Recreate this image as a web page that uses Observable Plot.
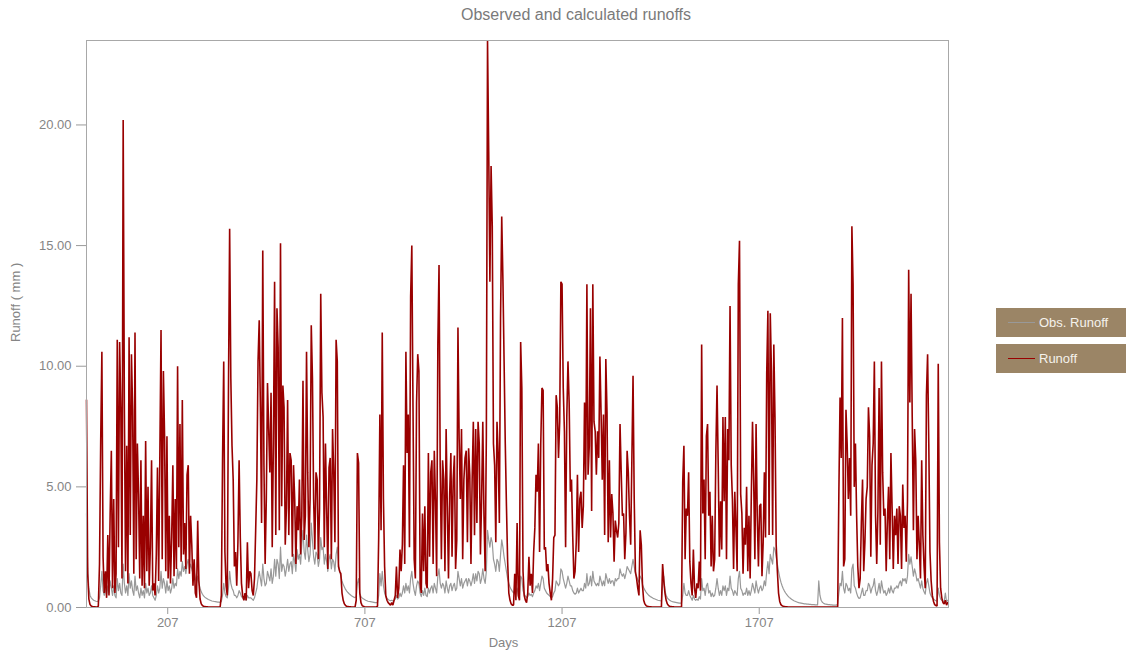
<!DOCTYPE html>
<html>
<head>
<meta charset="utf-8">
<script src="https://cdn.jsdelivr.net/npm/d3@7"></script>
<script src="https://cdn.jsdelivr.net/npm/@observablehq/plot@0.6"></script>
<style>
  body { margin: 0; background: #fff; font-family: "Liberation Sans", Arial, sans-serif; }
  #wrap { position: relative; width: 1126px; height: 655px; overflow: hidden; }
  #title { position: absolute; top: 6px; left: 576px; transform: translateX(-50%); font-size: 16px; color: #7a7a7a; white-space: nowrap; }
  #chart { position: absolute; top: 30px; left: 0; }
  .key { position: absolute; left: 996px; width: 134px; height: 29px; background: #9b8566; color: #f5f2ec; font-size: 13px; }
  .key .swatch { position: absolute; left: 12px; top: 14px; width: 27px; height: 1px; }
  .key .name { position: absolute; left: 43px; top: 7px; white-space: nowrap; }
</style>
</head>
<body>
<div id="wrap">
  <div id="title"></div>
  <div id="chart"></div>
  <div id="legend"></div>
</div>
<script>
// Daily runoff record, sampled every 3rd day starting at day 1
const titleText = "Observed and calculated runoffs";
const xLabel = "Days";
const yLabel = "Runoff ( mm )";
const firstDay = 1;
const dayStep = 3;
const lastDay = 2187;
const xTicks = [207, 707, 1207, 1707];
const yTicks = [0, 5, 10, 15, 20];
const yMax = 23.5;

const seriesNames = ["Obs. Runoff", "Runoff"];
const seriesColors = ["#999999", "#990000"];

// calculated runoff (mm)
const runoff = [
  8.6,1.4,0.35,0.12,0.06,0.04,0.03,0.03,0.02,0.02,
  0.05,1.8,6.9,10.6,2.1,0.6,1.5,0.4,3.0,0.5,
  3.9,6.5,0.8,4.5,0.6,1.4,11.1,2.5,11.0,8.3,
  1.2,20.2,8.4,1.5,6.7,1.0,11.2,3.0,10.5,8.2,
  1.4,11.4,2.0,6.8,4.7,1.2,6.1,0.9,3.8,0.8,
  6.9,1.5,5.0,0.9,2.5,6.1,0.7,1.0,0.5,2.2,
  5.8,1.1,6.3,11.5,2.0,9.8,7.1,1.5,7.1,1.2,
  3.8,1.0,2.9,5.9,1.3,4.5,1.6,10.0,2.5,7.6,
  1.9,8.6,2.2,3.5,1.6,5.5,5.9,1.4,3.8,2.6,
  0.9,2.0,0.6,0.4,3.6,1.1,0.35,0.15,0.08,0.05,
  0.04,0.03,0.03,0.02,0.02,0.02,0.02,0.02,0.02,0.02,
  0.02,0.02,0.02,0.03,0.5,6.1,10.2,2.3,0.9,0.5,
  9.0,15.7,9.5,6.7,5.3,1.7,2.3,0.9,2.7,6.1,
  2.9,1.0,0.5,0.3,0.6,0.3,2.7,0.8,1.5,1.4,
  0.7,0.5,1.2,3.2,5.3,10.2,11.9,8.3,3.5,14.8,
  5.9,1.8,4.5,9.3,7.4,5.6,8.9,2.5,6.8,13.5,
  3.0,12.4,10.8,3.2,15.1,4.2,9.2,8.3,2.6,4.1,
  8.6,3.0,6.4,6.1,2.1,5.9,4.5,1.8,4.2,3.2,
  5.3,2.2,3.8,9.4,2.8,3.8,10.6,5.6,2.5,4.5,
  11.7,9.5,4.5,2.4,5.6,5.3,2.0,4.1,13.0,8.9,
  7.9,2.5,6.8,4.1,1.6,5.8,6.2,2.0,7.4,5.6,
  2.7,11.1,10.2,1.7,1.5,1.4,0.6,0.3,0.15,0.08,
  0.05,0.04,0.03,0.03,0.02,0.02,0.02,0.02,0.3,6.4,
  6.0,0.6,0.2,0.08,0.05,0.03,0.02,0.02,0.02,0.02,
  0.02,0.02,0.02,0.02,0.02,0.02,0.05,2.9,8.0,3.2,
  11.4,4.5,1.7,0.5,0.3,0.2,0.15,0.1,0.2,0.1,
  0.3,0.5,1.7,0.4,0.8,2.4,1.5,2.6,5.9,1.8,
  10.6,6.4,8.0,2.5,12.9,15.0,8.3,2.0,1.2,8.5,
  10.5,9.8,1.0,0.6,3.9,1.5,4.2,1.0,0.8,6.4,
  2.1,5.6,6.1,1.8,6.5,4.4,1.3,10.9,14.2,5.8,
  2.0,6.1,5.3,1.5,7.4,4.2,1.2,4.7,6.4,2.1,
  5.3,6.3,1.6,2.8,11.6,7.0,4.5,7.4,2.0,5.3,
  6.2,6.5,2.7,6.6,5.5,1.8,5.3,7.7,3.0,7.4,
  3.5,7.7,6.8,2.2,4.5,7.7,3.8,1.5,7.1,23.5,
  18.9,13.5,18.3,15.8,6.8,5.9,2.7,7.7,6.4,3.5,
  12.0,16.2,13.6,10.2,6.8,4.2,1.9,0.6,0.3,0.15,
  0.1,0.1,1.4,0.3,3.5,0.5,0.3,11.0,9.1,1.5,
  0.5,0.3,0.2,0.6,2.1,0.9,1.4,0.6,2.3,3.3,
  5.5,4.8,6.8,2.3,6.8,9.1,9.0,2.4,2.5,1.5,
  1.8,1.0,0.6,0.3,1.2,2.9,3.0,8.8,8.3,6.2,
  7.7,13.5,13.4,9.1,7.3,2.5,7.9,10.2,8.5,4.8,
  5.3,3.0,1.2,1.5,2.7,5.5,2.3,4.5,4.8,3.3,
  4.2,8.5,5.3,13.4,5.5,6.7,12.4,4.0,13.4,7.7,
  7.3,5.5,7.3,6.2,10.4,8.0,5.3,8.0,3.0,10.3,
  8.1,2.7,6.1,2.9,4.7,3.9,1.9,3.6,3.2,2.9,
  3.5,7.6,5.6,3.8,3.9,2.0,3.1,6.5,5.6,3.8,
  2.6,6.1,9.6,4.5,1.5,1.2,0.8,0.5,3.2,2.6,
  0.9,0.3,0.15,0.08,0.05,0.04,0.03,0.03,0.02,0.02,
  0.02,0.02,0.02,0.02,0.02,0.02,0.02,1.8,1.1,0.6,
  0.3,0.15,0.08,0.05,0.04,0.03,0.03,0.02,0.02,0.02,
  0.02,0.02,0.02,0.03,5.2,6.7,2.0,4.1,3.8,5.6,
  1.9,1.0,0.5,2.4,0.8,0.4,1.0,0.8,1.9,0.7,
  10.9,3.9,5.3,2.0,7.1,7.6,3.8,4.8,1.7,3.8,
  1.5,2.0,6.4,9.2,5.9,2.1,4.4,2.4,7.9,4.4,
  7.9,2.0,7.4,6.1,12.5,5.9,4.5,1.6,4.8,3.3,
  1.5,13.4,15.2,4.7,3.9,1.4,3.3,2.6,5.0,1.5,
  3.8,1.2,4.7,7.7,5.2,2.0,7.6,3.8,1.7,4.2,
  4.3,1.3,2.7,5.6,2.9,9.7,12.3,3.0,12.2,9.8,
  3.0,10.9,7.9,2.6,1.5,0.6,0.25,0.12,0.07,0.05,
  0.04,0.03,0.03,0.02,0.02,0.02,0.02,0.02,0.02,0.02,
  0.02,0.02,0.02,0.02,0.02,0.02,0.02,0.02,0.02,0.02,
  0.02,0.02,0.02,0.02,0.02,0.02,0.02,0.02,0.02,0.02,
  0.02,0.02,0.02,0.02,0.02,0.02,0.02,0.02,0.02,0.02,
  0.02,0.02,0.02,0.02,0.02,0.03,4.8,8.7,6.2,12.0,
  1.7,2.0,8.2,6.8,4.5,6.2,3.8,15.8,13.4,5.0,
  6.8,3.8,1.7,0.8,1.2,3.5,5.3,1.5,2.7,4.5,
  5.0,8.3,7.1,2.1,5.9,6.8,10.2,3.8,1.8,4.0,
  9.1,2.6,10.2,5.6,3.8,4.1,1.5,3.6,5.0,2.0,
  6.4,4.1,1.6,3.8,3.0,4.1,1.8,4.2,3.8,1.6,
  5.1,3.3,3.8,1.9,4.4,14.0,8.5,13.0,7.9,3.2,
  7.4,6.1,2.0,3.8,2.6,1.2,6.1,3.0,1.7,0.8,
  8.8,10.5,6.8,2.3,1.1,0.5,0.25,0.12,0.08,0.06,
  10.1,2.7,0.8,0.4,0.2,0.15,0.3,0.1,0.2
];

// observed runoff (mm)
const obsRunoff = [
  3.9,1.6,0.8,0.5,0.4,0.35,0.3,0.28,0.26,0.25,
  0.25,0.4,0.9,1.5,0.7,0.5,0.8,0.5,0.9,0.6,
  1.1,0.8,0.5,0.9,0.5,0.4,1.2,0.7,1.0,0.6,
  0.5,1.8,1.0,0.6,0.9,0.5,1.4,0.8,1.1,0.7,
  0.5,1.3,0.7,0.9,0.6,0.4,0.8,0.5,0.7,0.4,
  1.0,0.6,0.8,0.5,0.6,0.9,0.5,0.4,0.3,0.5,
  0.9,0.6,0.8,1.5,0.8,1.2,1.0,0.6,1.1,0.7,
  0.9,0.6,0.8,1.2,0.8,1.0,0.9,1.6,1.2,1.5,
  1.3,1.9,1.5,1.7,1.4,1.8,2.0,1.6,1.8,1.6,
  1.4,1.5,1.2,1.0,1.3,1.0,0.8,0.65,0.55,0.48,
  0.43,0.39,0.36,0.33,0.31,0.29,0.27,0.26,0.25,0.24,
  0.23,0.22,0.22,0.21,0.25,0.5,1.0,0.6,0.45,0.4,
  0.8,1.5,1.0,0.8,0.7,0.5,0.5,0.4,0.5,0.7,
  0.6,0.45,0.4,0.35,0.35,0.3,0.5,0.4,0.4,0.4,
  0.35,0.3,0.4,0.6,0.8,1.2,1.5,1.2,0.9,1.8,
  1.2,0.9,1.0,1.5,1.3,1.1,1.6,1.0,1.3,2.0,
  1.3,2.0,1.8,1.2,2.5,1.5,1.8,1.7,1.3,1.6,
  2.0,1.5,1.8,1.9,1.4,2.2,1.9,1.5,2.4,2.0,
  2.2,1.8,2.6,3.2,2.3,2.0,3.0,2.4,1.9,2.2,
  3.5,2.8,2.1,1.8,2.3,2.2,1.7,2.0,2.9,2.4,
  2.5,1.8,2.2,1.9,1.5,2.0,2.2,1.6,2.0,1.9,
  1.5,2.2,2.5,1.8,1.5,1.3,1.1,0.95,0.85,0.75,
  0.68,0.62,0.57,0.53,0.49,0.46,0.43,0.41,0.45,1.0,
  1.2,0.6,0.45,0.4,0.36,0.33,0.3,0.28,0.26,0.25,
  0.24,0.23,0.22,0.21,0.2,0.2,0.2,0.5,1.4,0.9,
  1.5,0.9,0.6,0.45,0.38,0.33,0.3,0.28,0.3,0.27,
  0.3,0.35,0.5,0.35,0.4,0.6,0.45,0.6,0.9,0.6,
  1.0,0.7,0.9,0.6,1.2,1.5,1.0,0.7,0.5,0.9,
  1.1,1.0,0.6,0.45,0.7,0.5,0.8,0.5,0.45,0.8,
  0.6,0.8,0.9,0.6,1.0,0.8,0.6,1.3,1.6,1.0,
  0.8,1.0,0.9,0.6,1.1,0.8,0.6,0.9,1.0,0.7,
  0.9,1.0,0.7,0.8,1.5,1.2,0.9,1.2,0.8,1.0,
  1.1,1.2,0.9,1.2,1.1,0.9,1.1,1.4,1.0,1.4,
  1.1,1.5,1.4,1.0,1.2,1.6,1.2,1.0,1.5,3.2,
  2.8,2.5,2.9,2.7,2.0,1.8,1.5,2.0,1.9,1.5,
  2.2,2.8,2.5,2.1,1.8,1.5,1.2,1.0,0.85,0.75,
  0.67,0.6,0.7,0.55,0.8,0.55,0.5,1.3,1.2,0.7,
  0.55,0.48,0.42,0.45,0.6,0.5,0.55,0.45,0.6,0.7,
  0.9,0.8,1.0,0.7,1.0,1.3,1.2,0.8,0.7,0.6,
  0.55,0.5,0.45,0.4,0.45,0.6,0.7,1.1,1.0,0.9,
  1.0,1.6,1.5,1.2,1.0,0.8,1.0,1.3,1.1,0.9,
  0.9,0.7,0.6,0.55,0.6,0.8,0.6,0.7,0.8,0.7,
  0.7,1.0,0.8,1.4,0.9,1.0,1.3,0.9,1.5,1.1,
  1.0,0.9,1.0,0.9,1.3,1.1,0.9,1.1,0.9,1.4,
  1.2,1.0,1.2,1.0,1.1,1.1,0.9,1.2,1.1,1.2,
  1.2,1.6,1.4,1.3,1.4,1.2,1.4,1.7,1.6,1.5,
  1.4,1.7,2.0,1.7,1.4,1.3,1.15,1.05,1.3,1.2,
  0.95,0.82,0.72,0.64,0.58,0.52,0.48,0.44,0.41,0.38,
  0.36,0.34,0.32,0.3,0.29,0.28,0.27,0.9,1.3,0.7,
  0.5,0.4,0.34,0.3,0.27,0.25,0.23,0.22,0.21,0.2,
  0.19,0.18,0.18,0.18,0.5,1.0,0.6,0.5,0.5,0.7,
  0.5,0.4,0.3,0.5,0.35,0.3,0.35,0.3,0.45,0.35,
  1.2,0.7,0.8,0.5,0.9,1.0,0.6,0.7,0.45,0.6,
  0.45,0.5,0.8,1.2,0.8,0.5,0.7,0.5,0.9,0.7,
  0.9,0.5,0.8,0.7,1.3,0.8,0.7,0.5,0.7,0.6,
  0.5,1.2,1.5,0.8,0.7,0.5,0.6,0.55,0.8,0.5,
  0.7,0.5,0.7,1.0,0.8,0.6,1.1,0.8,0.6,0.8,
  0.9,0.7,0.8,1.1,0.9,1.5,1.9,1.4,2.2,2.0,
  1.8,2.5,2.4,2.1,1.8,1.5,1.25,1.05,0.9,0.78,
  0.68,0.6,0.53,0.47,0.42,0.38,0.34,0.31,0.28,0.26,
  0.24,0.22,0.2,0.19,0.18,0.17,0.16,0.15,0.15,0.14,
  0.14,0.13,0.13,0.12,0.12,0.12,0.11,0.11,0.11,1.1,
  0.5,0.3,0.22,0.18,0.15,0.14,0.13,0.12,0.12,0.11,
  0.11,0.1,0.1,0.1,0.1,0.15,0.6,1.0,0.9,1.5,
  0.8,0.6,1.0,0.9,0.7,0.8,0.6,1.6,1.8,0.9,
  0.8,0.6,0.45,0.38,0.4,0.6,0.8,0.5,0.5,0.7,
  0.7,1.0,0.9,0.6,0.8,0.9,1.2,0.7,0.5,0.7,
  1.0,0.6,1.1,0.8,0.6,0.7,0.5,0.6,0.8,0.6,
  0.9,0.7,0.6,0.8,0.8,0.9,0.8,1.0,1.1,0.9,
  1.2,1.1,1.2,1.0,1.3,2.2,1.8,2.1,1.7,1.3,
  1.6,1.4,1.1,1.2,1.0,0.8,1.1,0.8,0.65,0.55,
  1.0,1.2,0.9,0.6,0.48,0.4,0.35,0.31,0.28,0.26,
  0.8,0.5,0.35,0.3,0.26,0.24,0.6,0.25,0.3
];

const toRows = values => values.map((v, i) => ({day: firstDay + i * dayStep, value: v}));
const obsRows = toRows(obsRunoff);
const calcRows = toRows(runoff);

document.getElementById("title").textContent = titleText;

const axisColor = "#9a9a9a";
const chart = Plot.plot({
  width: 1126,
  height: 625,
  marginLeft: 86,
  marginRight: 178,
  marginTop: 10,
  marginBottom: 48,
  style: {
    fontFamily: "'Liberation Sans', Arial, sans-serif",
    fontSize: "13px",
    color: "#858585",
    background: "transparent",
    overflow: "visible"
  },
  x: {domain: [firstDay, lastDay]},
  y: {domain: [0, yMax]},
  marks: [
    Plot.axisY({ticks: yTicks, tickFormat: d => d.toFixed(2), tickSize: 10, tickPadding: 5, label: null, stroke: axisColor}),
    Plot.axisX({ticks: xTicks, tickFormat: d => String(d), tickSize: 7, tickPadding: 3, label: null, stroke: axisColor}),
    Plot.line(obsRows, {x: "day", y: "value", stroke: seriesColors[0], strokeWidth: 1.2}),
    Plot.line(calcRows, {x: "day", y: "value", stroke: seriesColors[1], strokeWidth: 1.6, strokeLinejoin: "miter", strokeMiterlimit: 1}),
    Plot.frame({stroke: "#a8a8a8"}),
    Plot.text([yLabel], {frameAnchor: "left", rotate: -90, dx: -71, dy: 18, fill: "#858585"}),
    Plot.text([xLabel], {frameAnchor: "bottom", dy: 39, dx: -14, fill: "#858585"})
  ]
});
document.getElementById("chart").appendChild(chart);

// legend boxes on the right
const legend = document.getElementById("legend");
const keyTops = [308, 344];
seriesNames.forEach((name, i) => {
  const box = document.createElement("div");
  box.className = "key";
  box.style.top = keyTops[i] + "px";
  const sw = document.createElement("div");
  sw.className = "swatch";
  sw.style.background = seriesColors[i];
  const label = document.createElement("div");
  label.className = "name";
  label.textContent = name;
  box.appendChild(sw);
  box.appendChild(label);
  legend.appendChild(box);
});
</script>
</body>
</html>
